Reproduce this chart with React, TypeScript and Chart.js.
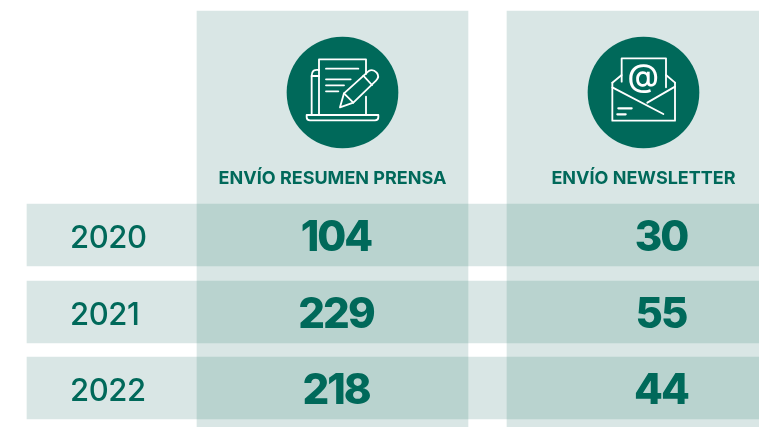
import React, { useEffect, useRef } from "react";
import { Chart, registerables } from "chart.js";

Chart.register(...registerables);

const years = ["2020", "2021", "2022"];
const resumenPrensa = [104, 229, 218];
const newsletter = [30, 55, 44];
const headers = ["ENVÍO RESUMEN PRENSA", "ENVÍO NEWSLETTER"];

const W = 759;
const H = 427;
const GREEN = "#00695A";
const LIGHT = "#D9E6E5";
const DARK = "#B9D3CF";
const FONT = "Inter, 'Noto Sans', sans-serif";

const rowCenters = [235, 312, 388];
const rowHeight = 62;
const rowSpan: [number, number] = [27, 759];
const cols = [
  { span: [197, 468] as [number, number], textX: 336, headX: 332.5, iconX: 342.5 },
  { span: [507, 759] as [number, number], textX: 661, headX: 643.5, iconX: 643.5 },
];
const colSpanY: [number, number] = [11, 427];
const yearX = 70;
const headY = 184;
const iconY = 92.5;
const iconR = 55.5;

function line(ctx: CanvasRenderingContext2D, pts: number[][]) {
  ctx.beginPath();
  pts.forEach((p, i) => (i ? ctx.lineTo(p[0], p[1]) : ctx.moveTo(p[0], p[1])));
  ctx.stroke();
}

function drawPressIcon(ctx: CanvasRenderingContext2D) {
  line(ctx, [[147, 255], [147, 88], [288, 88], [288, 132]]);
  line(ctx, [[288, 200], [288, 255]]);
  [[116, 265], [148, 242], [166, 222], [184, 205]].forEach(([y, x]) => line(ctx, [[168, y], [x, y]]));
  ctx.beginPath();
  ctx.moveTo(147, 120);
  ctx.quadraticCurveTo(125, 116, 125, 138);
  ctx.lineTo(125, 255);
  ctx.stroke();
  line(ctx, [[125, 138], [147, 138]]);
  ctx.beginPath();
  ctx.moveTo(110, 255);
  ctx.lineTo(325, 255);
  ctx.lineTo(325, 262);
  ctx.quadraticCurveTo(325, 271, 315, 271);
  ctx.lineTo(120, 271);
  ctx.quadraticCurveTo(110, 271, 110, 262);
  ctx.closePath();
  ctx.stroke();
  ctx.beginPath();
  ctx.moveTo(210, 232);
  ctx.lineTo(222, 190);
  ctx.lineTo(295, 124);
  ctx.quadraticCurveTo(308, 115, 320, 128);
  ctx.quadraticCurveTo(330, 140, 318, 152);
  ctx.lineTo(250, 218);
  ctx.closePath();
  ctx.stroke();
  line(ctx, [[280, 137], [306, 165]]);
  line(ctx, [[222, 190], [250, 218]]);
}

function drawMailIcon(ctx: CanvasRenderingContext2D) {
  line(ctx, [[155, 155], [155, 85], [288, 85], [288, 172]]);
  line(ctx, [[127, 158], [155, 135]]);
  line(ctx, [[288, 135], [315, 158]]);
  line(ctx, [[127, 158], [127, 272], [315, 272], [315, 158]]);
  line(ctx, [[127, 172], [280, 252]]);
  line(ctx, [[315, 170], [232, 218]]);
  ctx.lineWidth = 6.5;
  line(ctx, [[145, 235], [185, 235]]);
  line(ctx, [[142, 253], [167, 253]]);
  ctx.fillStyle = "#FFFFFF";
  ctx.font = `500 96px ${FONT}`;
  ctx.textAlign = "center";
  ctx.textBaseline = "middle";
  ctx.fillText("@", 220, 142);
}

const tablePlugin = {
  id: "tableText",
  afterDatasetsDraw(chart: any) {
    const ctx: any = chart.ctx;
    ctx.save();
    ctx.textBaseline = "alphabetic";
    chart.data.datasets.forEach((ds: any, di: number) => {
      if (!ds.textFont) return;
      const meta = chart.getDatasetMeta(di);
      meta.data.forEach((pt: any, i: number) => {
        ctx.font = ds.textFont;
        ctx.letterSpacing = ds.textSpacing;
        ctx.textAlign = ds.textAnchor;
        ctx.fillStyle = GREEN;
        ctx.fillText(String(ds.texts[i]), pt.x, pt.y + ds.textDy);
      });
    });
    ctx.letterSpacing = "0px";
    const icons: [number, number, (c: CanvasRenderingContext2D) => void][] = [
      [270, 30, drawPressIcon],
      [570, 30, drawMailIcon],
    ];
    icons.forEach(([ox, oy, fn]) => {
      ctx.save();
      ctx.translate(ox, oy);
      ctx.scale(1 / 3, 1 / 3);
      ctx.strokeStyle = "#FFFFFF";
      ctx.lineWidth = 5.5;
      ctx.lineJoin = "round";
      ctx.lineCap = "round";
      fn(ctx);
      ctx.restore();
    });
    ctx.restore();
  },
};

export default function App() {
  const ref = useRef<HTMLCanvasElement>(null);
  useEffect(() => {
    if (!ref.current) return;
    const band = (label: string, data: any[], thickness: number, color: string, order: number, indexAxis: string) => ({
      type: "bar" as const,
      label,
      data,
      indexAxis,
      grouped: false,
      barThickness: thickness,
      backgroundColor: color,
      borderWidth: 0,
      order,
    });
    const textLayer = (
      label: string,
      x: number,
      texts: (string | number)[],
      font: string,
      dy: number,
      ys: number[],
      spacing = "0px",
      anchor = "center",
    ) => ({
      type: "scatter" as const,
      label,
      data: ys.map((y) => ({ x, y })),
      pointRadius: 0,
      texts,
      textFont: font,
      textDy: dy,
      textSpacing: spacing,
      textAnchor: anchor,
      order: 0,
    });
    const chart = new Chart(ref.current, {
      type: "bar",
      data: {
        datasets: [
          ...cols.map((c, i) =>
            band(`col${i}`, [{ x: (c.span[0] + c.span[1]) / 2, y: colSpanY }], c.span[1] - c.span[0], LIGHT, 5, "x"),
          ),
          band("rows", rowCenters.map((y) => ({ x: rowSpan, y })), rowHeight, LIGHT, 4, "y"),
          ...cols.map((c, i) =>
            band(`cells${i}`, rowCenters.map((y) => ({ x: c.span, y })), rowHeight, DARK, 3, "y"),
          ),
          ...cols.map((c, i) => ({
            ...band(`icon${i}`, [{ x: c.iconX, y: [iconY - iconR, iconY + iconR] }], iconR * 2, GREEN, 1, "x"),
            borderRadius: iconR,
            borderSkipped: false,
          })),
          textLayer(headers[0], cols[0].headX, [headers[0]], `700 18px ${FONT}`, 0, [headY]),
          textLayer(headers[1], cols[1].headX, [headers[1]], `700 18px ${FONT}`, 0, [headY]),
          textLayer("years", yearX, years, `500 31px ${FONT}`, 13, rowCenters, "-0.4px", "left"),
          textLayer(headers[0] + " valores", cols[0].textX, resumenPrensa, `800 42px ${FONT}`, 15.5, rowCenters, "-2px"),
          textLayer(headers[1] + " valores", cols[1].textX, newsletter, `800 42px ${FONT}`, 15.5, rowCenters, "-2px"),
        ] as any,
      },
      options: {
        animation: false,
        responsive: false,
        layout: { padding: 0 },
        plugins: { legend: { display: false }, tooltip: { enabled: false } },
        scales: {
          x: { type: "linear", min: 0, max: W, display: false, offset: false },
          y: { type: "linear", min: 0, max: H, reverse: true, display: false, offset: false },
        },
      },
      plugins: [tablePlugin],
    });
    return () => chart.destroy();
  }, []);
  return (
    <div style={{ position: "absolute", left: 0, top: 0, width: W, height: H, background: "#fff" }}>
      <canvas ref={ref} width={W} height={H} style={{ display: "block" }} />
    </div>
  );
}
